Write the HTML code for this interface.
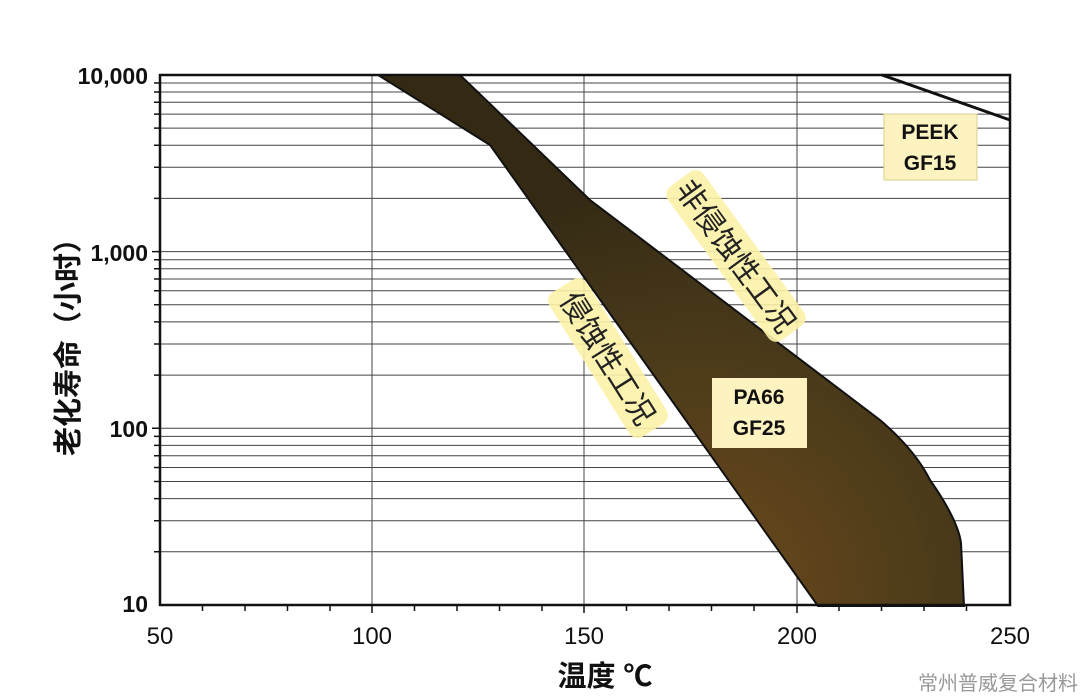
<!DOCTYPE html>
<html><head><meta charset="utf-8"><style>
html,body{margin:0;padding:0;background:#fff;}
svg{display:block;}
</style></head><body>
<svg width="1080" height="698" viewBox="0 0 1080 698" xmlns="http://www.w3.org/2000/svg" font-family="Liberation Sans, 'Noto Sans CJK SC', sans-serif">
<defs>
<radialGradient id="g" cx="700" cy="600" r="420" gradientUnits="userSpaceOnUse">
<stop offset="0" stop-color="#6e4a1c"/>
<stop offset="0.6" stop-color="#4a3a1a"/>
<stop offset="1" stop-color="#342a14"/>
</radialGradient>
</defs>
<rect width="1080" height="698" fill="#fff"/>
<path stroke="#444" stroke-width="1" fill="none" d="
M160 551.8H1010 M160 520.7H1010 M160 498.6H1010 M160 481.5H1010 M160 467.5H1010 M160 455.7H1010 M160 445.4H1010 M160 436.4H1010
M160 428.3H1010
M160 375.1H1010 M160 344.0H1010 M160 321.9H1010 M160 304.8H1010 M160 290.8H1010 M160 279.0H1010 M160 268.7H1010 M160 259.7H1010
M160 251.6H1010
M160 198.4H1010 M160 167.3H1010 M160 145.2H1010 M160 128.1H1010 M160 114.1H1010 M160 102.3H1010 M160 92.0H1010 M160 83.0H1010
M372 75V605 M584 75V605 M797 75V605"/>
<path stroke="#111" stroke-width="1.5" fill="none" d="
M202.5 605v6 M245 605v6 M287.5 605v6 M330 605v6 M372 605v8 M414.5 605v6 M457 605v6 M499.5 605v6 M542 605v6 M584 605v8 M626.5 605v6 M669 605v6 M711.5 605v6 M754 605v6 M797 605v8 M839 605v6 M881.5 605v6 M924 605v6 M966.5 605v6
M154 551.8h6 M154 520.7h6 M154 498.6h6 M154 481.5h6 M154 467.5h6 M154 455.7h6 M154 445.4h6 M154 436.4h6 M152 428.3h8
M154 375.1h6 M154 344.0h6 M154 321.9h6 M154 304.8h6 M154 290.8h6 M154 279.0h6 M154 268.7h6 M154 259.7h6 M152 251.6h8
M154 198.4h6 M154 167.3h6 M154 145.2h6 M154 128.1h6 M154 114.1h6 M154 102.3h6 M154 92.0h6 M154 83.0h6"/>
<path d="M378,75 L460,75 L590,200 L880,420 Q915,450 930,480 Q958,520 961,543 L964,606 L818,606 L490,145 Z" fill="url(#g)" stroke="#111" stroke-width="2"/>
<line x1="882" y1="75" x2="1010" y2="120" stroke="#111" stroke-width="3"/>
<rect x="160" y="75" width="850" height="530" fill="none" stroke="#111" stroke-width="2.5"/>
<rect x="884" y="114" width="93" height="66" fill="#fdf3c0" stroke="#d8cf90"/>
<text x="930" y="139" font-size="21" font-weight="bold" text-anchor="middle" fill="#111">PEEK</text>
<text x="930" y="170" font-size="21" font-weight="bold" text-anchor="middle" fill="#111">GF15</text>
<rect x="712" y="378" width="95" height="70" fill="#fdf3c0"/>
<text x="759" y="404" font-size="21" font-weight="bold" text-anchor="middle" fill="#111">PA66</text>
<text x="759" y="435" font-size="21" font-weight="bold" text-anchor="middle" fill="#111">GF25</text>
<g transform="translate(736,256) rotate(54)">
<rect x="-95" y="-22" width="190" height="44" rx="10" fill="#fdf2a8" opacity="0.9"/>
<text x="0" y="11" font-size="30" text-anchor="middle" fill="#222">非侵蚀性工况</text>
</g>
<g transform="translate(608,358) rotate(58)">
<rect x="-85" y="-22" width="170" height="44" rx="10" fill="#fdf2a8" opacity="0.9"/>
<text x="0" y="11" font-size="30" text-anchor="middle" fill="#222">侵蚀性工况</text>
</g>
<g font-size="23" font-weight="bold" text-anchor="end" fill="#111">
<text x="148" y="84">10,000</text>
<text x="148" y="261">1,000</text>
<text x="148" y="437">100</text>
<text x="148" y="612">10</text>
</g>
<g font-size="24" text-anchor="middle" fill="#111">
<text x="160" y="644">50</text>
<text x="372" y="644">100</text>
<text x="584" y="644">150</text>
<text x="797" y="644">200</text>
<text x="1010" y="644">250</text>
</g>
<text x="605" y="686" font-size="29" font-weight="bold" text-anchor="middle" fill="#111">温度 ℃</text>
<text transform="translate(78,340) rotate(-90)" font-size="29" font-weight="bold" text-anchor="middle" fill="#111">老化寿命（小时）</text>
<text x="1078" y="690" font-size="20" text-anchor="end" fill="#999">常州普威复合材料</text>
</svg>
</body></html>
